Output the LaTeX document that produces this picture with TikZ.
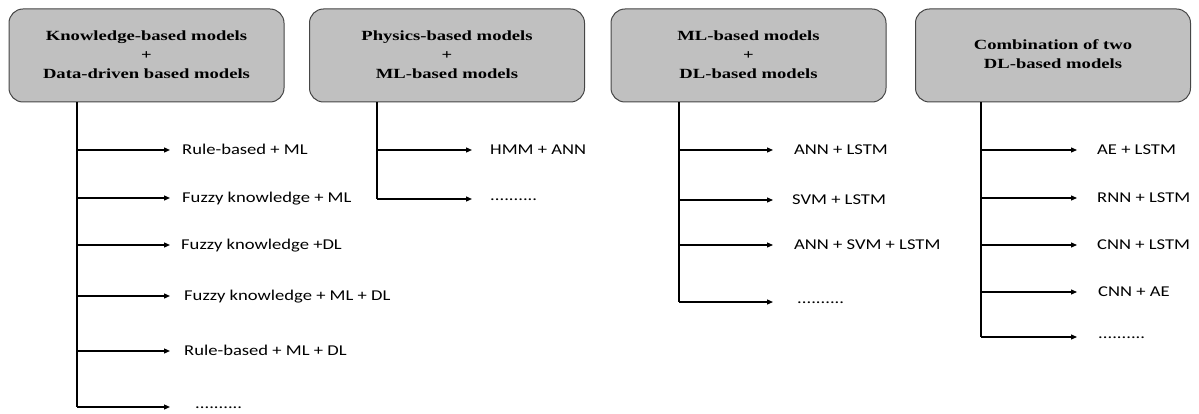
\documentclass[tikz,border=0pt]{standalone}
\usepackage{fontspec}
\setmainfont{Liberation Serif}
\newfontfamily\labfont{Carlito}
\usetikzlibrary{arrows.meta}
\definecolor{boxfill}{RGB}{192,192,192}
\definecolor{boxline}{RGB}{70,70,70}
\newcommand{\boxtxt}[1]{\scalebox{1.33}[1]{\fontsize{14}{19}\selectfont\bfseries\begin{tabular}{@{}c@{}}#1\end{tabular}}}
\newcommand{\labtxt}[1]{\scalebox{1.24}[1]{#1}}
\tikzset{
  catbox/.style={draw=boxline, fill=boxfill, line width=1pt, rounded corners=14pt,
    minimum width=275pt, minimum height=93pt, inner sep=0pt, align=center},
  itemlab/.style={anchor=west, inner xsep=0pt, inner ysep=0pt, text height=9.7pt, text depth=0pt,
    font=\labfont\fontsize{15}{18}\selectfont},
  dotlab/.style={itemlab, text height=3pt},
  trunk/.style={line width=1.3pt, black},
  branch/.style={line width=1.2pt, black, -{Triangle[length=6pt,width=5pt]}}
}
\begin{document}
\begin{tikzpicture}[x=1pt,y=-1pt]
\useasboundingbox (0,0) rectangle (1199,414);

% category boxes
\node[catbox] (b1) at (146.5,55.5) {\boxtxt{Knowledge-based models\\+\\Data-driven based models}};
\node[catbox] (b2) at (447,55.5) {\boxtxt{Physics-based models\\+\\ML-based models}};
\node[catbox] (b3) at (748.5,55.5) {\boxtxt{ML-based models\\+\\DL-based models}};
\node[catbox] (b4) at (1053,55.5) {\boxtxt{Combination of two\\DL-based models}};

% column 1
\coordinate (a1) at (77,150);
\coordinate (a2) at (77,198);
\coordinate (a3) at (77,245);
\coordinate (a4) at (77,296);
\coordinate (a5) at (77,351);
\coordinate (a6) at (77,407);
\node[itemlab] (la1) at (182,150) {\labtxt{Rule-based + ML}};
\node[itemlab] (la2) at (182,198) {\labtxt{Fuzzy knowledge + ML}};
\node[itemlab] (la3) at (181,245) {\labtxt{Fuzzy knowledge +DL}};
\node[itemlab] (la4) at (184,296) {\labtxt{Fuzzy knowledge + ML + DL}};
\node[itemlab] (la5) at (184,351) {\labtxt{Rule-based + ML + DL}};
\node[dotlab] (la6) at (195,407) {\labtxt{..........}};
\draw[trunk] (b1.south -| a1) -- (a6);
\draw[branch, shorten >=12pt] (a1) -- (la1.west);
\draw[branch, shorten >=12pt] (a2) -- (la2.west);
\draw[branch, shorten >=11pt] (a3) -- (la3.west);
\draw[branch, shorten >=14pt] (a4) -- (la4.west);
\draw[branch, shorten >=14pt] (a5) -- (la5.west);
\draw[branch, shorten >=25pt] (a6) -- (la6.west);

% column 2
\coordinate (c1) at (377,150);
\coordinate (c2) at (377,199);
\node[itemlab] (lc1) at (490,150) {\labtxt{HMM + ANN}};
\node[dotlab] (lc2) at (490,199) {\labtxt{..........}};
\draw[trunk] (b2.south -| c1) -- (c2);
\draw[branch, shorten >=18pt] (c1) -- (lc1.west);
\draw[branch, shorten >=18pt] (c2) -- (lc2.west);

% column 3
\coordinate (d1) at (679,150);
\coordinate (d2) at (679,200);
\coordinate (d3) at (679,245);
\coordinate (d4) at (679,302);
\node[itemlab] (ld1) at (794,150) {\labtxt{ANN + LSTM}};
\node[itemlab] (ld2) at (792,200) {\labtxt{SVM + LSTM}};
\node[itemlab] (ld3) at (794,245) {\labtxt{ANN + SVM + LSTM}};
\node[dotlab] (ld4) at (797,302) {\labtxt{..........}};
\draw[trunk] (b3.south -| d1) -- (d4);
\draw[branch, shorten >=21pt] (d1) -- (ld1.west);
\draw[branch, shorten >=19pt] (d2) -- (ld2.west);
\draw[branch, shorten >=21pt] (d3) -- (ld3.west);
\draw[branch, shorten >=24pt] (d4) -- (ld4.west);

% column 4
\coordinate (e1) at (981,150);
\coordinate (e2) at (981,198);
\coordinate (e3) at (981,245);
\coordinate (e4) at (981,292);
\coordinate (e5) at (981,337);
\node[itemlab] (le1) at (1097,150) {\labtxt{AE + LSTM}};
\node[itemlab] (le2) at (1097,198) {\labtxt{RNN + LSTM}};
\node[itemlab] (le3) at (1097,245) {\labtxt{CNN + LSTM}};
\node[itemlab] (le4) at (1098,292) {\labtxt{CNN + AE}};
\node[dotlab] (le5) at (1098,337) {\labtxt{..........}};
\draw[trunk] (b4.south -| e1) -- (e5);
\draw[branch, shorten >=20pt] (e1) -- (le1.west);
\draw[branch, shorten >=20pt] (e2) -- (le2.west);
\draw[branch, shorten >=20pt] (e3) -- (le3.west);
\draw[branch, shorten >=21pt] (e4) -- (le4.west);
\draw[branch, shorten >=21pt] (e5) -- (le5.west);
\end{tikzpicture}
\end{document}
